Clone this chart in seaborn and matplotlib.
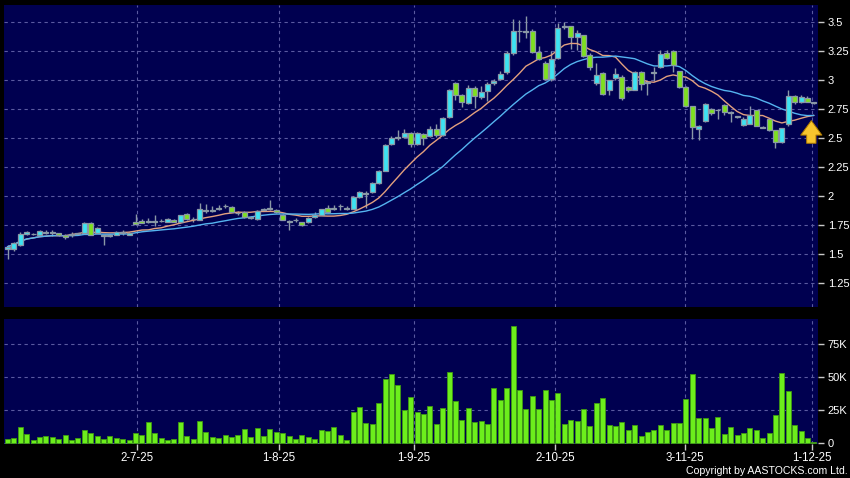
import numpy as np
import pandas as pd
import matplotlib
matplotlib.use("Agg")
import matplotlib.pyplot as plt
import seaborn as sns

# ---------------- data ----------------
opens = [1.54, 1.54, 1.575, 1.675, 1.67, 1.665, 1.68, 1.685, 1.678, 1.665,
         1.665, 1.672, 1.678, 1.77, 1.685, 1.66, 1.655, 1.664, 1.68, 1.664,
         1.775, 1.787, 1.78, 1.78, 1.783, 1.78, 1.793, 1.775, 1.845, 1.80,
         1.793, 1.875, 1.875, 1.89, 1.91, 1.908, 1.85, 1.86, 1.81, 1.80,
         1.88, 1.89, 1.88, 1.84, 1.78, 1.79, 1.773, 1.773, 1.82, 1.84,
         1.90, 1.89, 1.91, 1.89, 1.89, 1.99, 2.02, 2.035, 2.11, 2.22,
         2.45, 2.50, 2.51, 2.54, 2.45, 2.535, 2.52, 2.575, 2.53, 2.68,
         2.975, 2.87, 2.80, 2.93, 2.855, 2.905, 2.975, 3.01, 3.07, 3.235,
         3.42, 3.42, 3.42, 3.24, 3.15, 3.006, 3.19, 3.46, 3.465, 3.37,
         3.385, 3.22, 2.977, 3.06, 2.917, 3.02, 3.03, 2.94, 2.917, 3.07,
         2.975, 3.065, 3.11, 3.23, 3.25, 3.075, 2.94, 2.776, 2.575, 2.65,
         2.753, 2.74, 2.787, 2.72, 2.68, 2.61, 2.624, 2.739, 2.59, 2.667,
         2.566, 2.468, 2.62, 2.862, 2.815, 2.845, 2.81]
closes = [1.563, 1.598, 1.67, 1.687, 1.675, 1.70, 1.685, 1.688, 1.66, 1.65,
          1.67, 1.678, 1.77, 1.665, 1.727, 1.652, 1.665, 1.69, 1.685, 1.684,
          1.76, 1.77, 1.783, 1.783, 1.786, 1.80, 1.78, 1.836, 1.80, 1.805,
          1.885, 1.88, 1.878, 1.893, 1.915, 1.865, 1.853, 1.816, 1.812, 1.87,
          1.883, 1.893, 1.86, 1.793, 1.782, 1.793, 1.75, 1.813, 1.84, 1.885,
          1.86, 1.893, 1.915, 1.893, 1.99, 2.035, 2.025, 2.11, 2.22, 2.44,
          2.50, 2.505, 2.54, 2.45, 2.54, 2.50, 2.575, 2.53, 2.67, 2.91,
          2.87, 2.81, 2.93, 2.86, 2.895, 2.97, 2.995, 3.05, 3.235, 3.42,
          3.425, 3.415, 3.24, 3.185, 3.006, 3.184, 3.448, 3.465, 3.37, 3.41,
          3.21, 3.11, 3.04, 2.876, 2.997, 3.055, 2.845, 2.91, 3.07, 2.97,
          2.98, 3.07, 3.227, 3.19, 3.126, 2.94, 2.776, 2.595, 2.60, 2.795,
          2.718, 2.745, 2.724, 2.715, 2.685, 2.667, 2.695, 2.603, 2.595, 2.566,
          2.466, 2.586, 2.862, 2.815, 2.85, 2.815, 2.80]
highs = [1.575, 1.60, 1.69, 1.70, 1.685, 1.71, 1.705, 1.71, 1.685, 1.67,
         1.69, 1.685, 1.775, 1.775, 1.73, 1.665, 1.67, 1.70, 1.71, 1.69,
         1.845, 1.80, 1.81, 1.836, 1.80, 1.81, 1.80, 1.84, 1.85, 1.815,
         1.937, 1.93, 1.91, 1.92, 1.93, 1.915, 1.87, 1.87, 1.83, 1.88,
         1.90, 1.97, 1.89, 1.845, 1.79, 1.81, 1.78, 1.82, 1.86, 1.89,
         1.92, 1.92, 1.93, 1.91, 2.0, 2.04, 2.045, 2.12, 2.225, 2.445,
         2.52, 2.57, 2.58, 2.55, 2.55, 2.54, 2.60, 2.62, 2.68, 2.92,
         2.98, 2.88, 2.96, 2.95, 2.95, 2.98, 3.01, 3.08, 3.25, 3.53,
         3.52, 3.55, 3.44, 3.29, 3.16, 3.25, 3.49, 3.50, 3.47, 3.43,
         3.39, 3.23, 3.15, 3.07, 3.0, 3.10, 3.04, 2.95, 3.08, 3.075,
         2.99, 3.11, 3.26, 3.26, 3.26, 3.08, 2.95, 2.78, 2.61, 2.80,
         2.76, 2.75, 2.79, 2.73, 2.69, 2.68, 2.78, 2.74, 2.60, 2.67,
         2.57, 2.59, 2.91, 2.87, 2.87, 2.86, 2.815]
lows = [1.46, 1.53, 1.57, 1.665, 1.66, 1.66, 1.67, 1.655, 1.655, 1.63,
        1.65, 1.665, 1.675, 1.66, 1.68, 1.58, 1.65, 1.66, 1.665, 1.66,
        1.75, 1.765, 1.77, 1.74, 1.775, 1.775, 1.775, 1.77, 1.79, 1.78,
        1.79, 1.85, 1.86, 1.88, 1.90, 1.86, 1.84, 1.81, 1.80, 1.79,
        1.87, 1.88, 1.85, 1.79, 1.707, 1.78, 1.74, 1.77, 1.81, 1.835,
        1.855, 1.88, 1.88, 1.88, 1.885, 1.98, 1.90, 2.03, 2.10, 2.215,
        2.44, 2.48, 2.50, 2.42, 2.44, 2.44, 2.51, 2.51, 2.52, 2.67,
        2.83, 2.77, 2.79, 2.76, 2.84, 2.82, 2.96, 3.0, 3.05, 3.22,
        3.33, 3.36, 3.23, 3.17, 3.0, 2.99, 3.18, 3.44, 3.27, 3.26,
        3.20, 3.09, 2.96, 2.87, 2.87, 3.0, 2.83, 2.90, 2.91, 2.91,
        2.87, 2.99, 3.10, 3.18, 3.07, 2.93, 2.77, 2.49, 2.48, 2.64,
        2.70, 2.66, 2.70, 2.64, 2.67, 2.60, 2.62, 2.60, 2.585, 2.56,
        2.41, 2.46, 2.60, 2.79, 2.80, 2.81, 2.795]
volumes_k = [3.3, 4.3, 12, 6.8, 2.5, 4.5, 5.8, 5, 3.5, 6.5,
             2.8, 4, 9.8, 7.5, 5.5, 3.3, 5.8, 4.3, 3, 2.5,
             7.8, 6.3, 16, 7.5, 4, 2.8, 3.5, 15.8, 5.3, 3.3,
             17, 8.3, 4.8, 4.3, 6.3, 4.8, 6, 10.5, 5, 11.8,
             5.5, 10.5, 8.5, 8, 5.3, 3.3, 6, 4.5, 3, 10,
             9, 12.3, 6.5, 2.5, 24, 27.5, 15.3, 14.8, 30.5, 48.5,
             52.5, 44, 25.5, 34.8, 23.5, 22, 28, 14.5, 26.8, 54,
             32, 17.5, 26.8, 15.8, 16.8, 14.3, 41.5, 33, 42, 88.5,
             40.5, 26, 36, 25.8, 40, 33, 37.8, 14.8, 18, 17,
             26, 13.3, 30.8, 34, 13.5, 13, 16.3, 10, 13.8, 5.8,
             8.3, 10, 14, 10, 15.3, 15.5, 33.8, 52.8, 19.5, 19.5,
             11.3, 20.3, 7, 12, 6.3, 7.8, 11.5, 9.8, 4, 7.8,
             21.3, 53, 39.3, 14, 9, 4.3, 0.8]

date_tick_pos = [20.25, 42.4, 63.45, 85.6, 105.8, 125.7]
date_tick_labels = ["2-7-25", "1-8-25", "1-9-25", "2-10-25", "3-11-25", "1-12-25"]
price_ticks = [1.25, 1.5, 1.75, 2.0, 2.25, 2.5, 2.75, 3.0, 3.25, 3.5]
price_tick_labels = ["1.25", "1.5", "1.75", "2", "2.25", "2.5", "2.75", "3", "3.25", "3.5"]
vol_ticks = [0, 25, 50, 75]
vol_tick_labels = ["0", "25K", "50K", "75K"]
ma_windows = [10, 20]
copyright_text = "Copyright by AASTOCKS.com Ltd."

# ---------------- styling ----------------
BG = "#000050"
UP = "#3de3f2"
DOWN = "#7ee01f"
EDGE = "#8a98a6"
VOL = "#6cee1c"
VOL_EDGE = "#3f9a12"
GRID = "#5a5aa0"
MA_COLORS = ["#e3a07e", "#55b4f0"]

sns.set_style("dark")
plt.rcParams["font.family"] = ["Liberation Sans", "DejaVu Sans"]

df = pd.DataFrame({"idx": np.arange(len(closes)), "open": opens, "high": highs,
                   "low": lows, "close": closes, "vol": volumes_k})
for w in ma_windows:
    df[f"ma{w}"] = df["close"].rolling(w, min_periods=1).mean()

fig = plt.figure(figsize=(8.5, 4.78), dpi=100, facecolor="black")
ax1 = fig.add_axes([0.0047, 0.3577, 0.9577, 0.6318])
ax2 = fig.add_axes([0.0047, 0.0711, 0.9577, 0.2615])

for ax in (ax1, ax2):
    ax.set_facecolor(BG)
    for s in ax.spines.values():
        s.set_visible(False)
    ax.grid(True, linestyle=(0, (3, 3)), color=GRID, linewidth=0.8)
    ax.set_axisbelow(True)

# ---- candlesticks ----
x = df["idx"].to_numpy()
o = df["open"].to_numpy(); c = df["close"].to_numpy()
h = df["high"].to_numpy(); l = df["low"].to_numpy()
up = c >= o
ax1.vlines(x, l, h, color=EDGE, linewidth=1.0, zorder=2)

# ---- moving averages ----
for w, col in zip(ma_windows, MA_COLORS):
    sns.lineplot(data=df, x="idx", y=f"ma{w}", color=col, linewidth=1.0, ax=ax1, zorder=3)

body_bottom = np.minimum(o, c)
body_h = np.maximum(np.abs(c - o), 0.006)
ax1.bar(x, body_h, bottom=body_bottom, width=0.78,
        color=np.where(up, UP, DOWN), edgecolor=EDGE, linewidth=0.9, zorder=4)

# arrow marker at the latest bar
ax1.annotate("", xy=(125.6, 2.65), xytext=(125.6, 2.455),
             arrowprops=dict(arrowstyle="simple,head_length=0.65,head_width=0.95,tail_width=0.42",
                             mutation_scale=16, fc="#f7c52e", ec="#b07a00", lw=0.7,
                             shrinkA=0, shrinkB=0),
             zorder=6)

ax1.set_xlim(-0.55, 126.65)
ax1.set_ylim(1.043, 3.647)
ax1.set_xticks(date_tick_pos)
ax1.tick_params(axis="x", length=0, labelbottom=False)
ax1.set_yticks(price_ticks)
ax1.set_yticklabels(price_tick_labels)
ax1.yaxis.tick_right()
ax1.tick_params(axis="y", colors="#c8c8c8", labelcolor="white", length=4,
                width=1, pad=3, labelsize=8)
ax1.set_xlabel(""); ax1.set_ylabel("")

# ---- volume ----
sns.barplot(data=df, x="idx", y="vol", native_scale=True, color=VOL, saturation=1,
            width=0.78, edgecolor=VOL_EDGE, linewidth=0.6, errorbar=None, ax=ax2, zorder=3)
ax2.set_xlim(-0.55, 126.65)
ax2.set_ylim(-0.5, 94)
ax2.set_xticks(date_tick_pos)
ax2.set_xticklabels(date_tick_labels)
ax2.tick_params(axis="x", colors="#c8c8c8", labelcolor="white", length=4,
                width=1, pad=2, labelsize=8.3, bottom=True)
ax2.set_yticks(vol_ticks)
ax2.set_yticklabels(vol_tick_labels)
ax2.yaxis.tick_right()
ax2.tick_params(axis="y", colors="#c8c8c8", labelcolor="white", length=4,
                width=1, pad=3, labelsize=8)
ax2.set_xlabel(""); ax2.set_ylabel("")

fig.text(0.997, 0.004, copyright_text, ha="right", va="bottom",
         color="white", fontsize=7.6)

fig.savefig("out.png", dpi=100, facecolor="black")
